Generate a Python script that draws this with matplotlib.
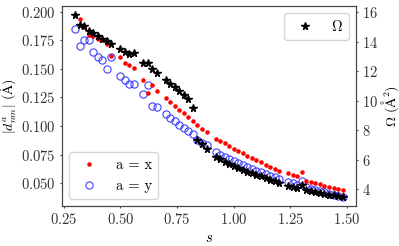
import numpy as np
import matplotlib
matplotlib.use("Agg")
import matplotlib.pyplot as plt

plt.rcParams['font.family'] = 'serif'
plt.rcParams['font.serif'] = ['cmr10', 'DejaVu Serif']
plt.rcParams['mathtext.fontset'] = 'cm'
plt.rcParams['axes.formatter.use_mathtext'] = True
plt.rcParams['font.size'] = 10.5
plt.rcParams['xtick.major.size'] = 1.6
plt.rcParams['ytick.major.size'] = 1.6
plt.rcParams['xtick.major.pad'] = 2.8
plt.rcParams['ytick.major.pad'] = 2.8
plt.rcParams['axes.edgecolor'] = '#444444'
plt.rcParams['xtick.color'] = '#444444'
plt.rcParams['ytick.color'] = '#444444'
plt.rcParams['xtick.labelcolor'] = '#333333'
plt.rcParams['ytick.labelcolor'] = '#333333'

# s values for each series
s_a = [0.30, 0.32, 0.34, 0.36, 0.38, 0.40, 0.42, 0.44, 0.46,
       0.50, 0.52, 0.54, 0.56,
       0.60, 0.62, 0.64, 0.66,
       0.70, 0.72, 0.74, 0.76, 0.78, 0.80, 0.82, 0.84, 0.86, 0.88,
       0.92, 0.94, 0.96, 0.98, 1.00, 1.02, 1.04, 1.06, 1.08, 1.10,
       1.12, 1.14, 1.16, 1.18, 1.20,
       1.24, 1.26, 1.28, 1.30, 1.32, 1.34, 1.36, 1.38, 1.40, 1.42,
       1.44, 1.46, 1.48]

d_x = [0.197, 0.1936, 0.187, 0.180, 0.1785, 0.1765, 0.175, 0.172, 0.1612,
       0.1603, 0.1551, 0.1537, 0.151,
       0.1406, 0.129, 0.1357, 0.131,
       0.1244, 0.1209, 0.1175, 0.1143, 0.1111, 0.1076, 0.1044, 0.1007, 0.0978, 0.0948,
       0.0891, 0.0871, 0.0851, 0.0827, 0.0804, 0.0784, 0.0764, 0.0741, 0.0720, 0.0703,
       0.0682, 0.0662, 0.0645, 0.0624, 0.0604,
       0.0587, 0.0575, 0.0561, 0.0601, 0.0523, 0.0511, 0.0503, 0.0491, 0.0480, 0.0471,
       0.0462, 0.0453, 0.0442]

d_y = [0.1847, 0.1702, 0.1754, 0.1754, 0.1644, 0.1603, 0.158, 0.1499, 0.160,
       0.1435, 0.1406, 0.1372, 0.1366,
       0.1279, 0.136, 0.1178, 0.1163,
       0.1105, 0.1073, 0.1041, 0.1012, 0.0981, 0.0957, 0.0928, 0.0875, 0.0855, 0.0835,
       0.0772, 0.0749, 0.0732, 0.0711, 0.0691, 0.0674, 0.0659, 0.0642, 0.0624, 0.0610,
       0.0595, 0.0581, 0.0566, 0.0552, 0.0535,
       0.0509, 0.0500, 0.0488, 0.0517, 0.0465, 0.0451, 0.0442, 0.0430, 0.0422, 0.0410,
       0.0401, 0.0393, 0.0381]

omega = [15.82, 15.17, 15.06, 14.77, 14.61, 14.39, 14.21, 14.03, 13.85,
         13.51, 13.33, 13.15, 13.26,
         12.59, 12.55, 12.14, 11.87,
         11.40, 11.16, 10.91, 10.66, 10.42, 10.13, 9.52, 7.32, 7.03, 6.72,
         6.20, 6.02, 5.87, 5.71, 5.57, 5.44, 5.30, 5.19, 5.08, 4.97,
         4.86, 4.74, 4.63, 4.52, 4.41,
         4.18, 4.12, 4.05, 4.25, 3.91, 3.85, 3.80, 3.74, 3.67, 3.62,
         3.58, 3.51, 3.47]

fig = plt.figure(figsize=(3.99, 2.46), dpi=100)
ax = fig.add_axes([0.1546, 0.1626, 0.8922 - 0.1546, 0.9756 - 0.1626])
ax2 = ax.twinx()

ax.plot(s_a, d_x, '.', color='red', ms=4.5, label='a = x', zorder=3)
ax.plot(s_a, d_y, 'o', mfc='none', mec=(0.25, 0.25, 1.0), mew=0.8, ms=5.2, label='a = y', zorder=2)
ax2.plot(s_a, omega, '*', color='black', ms=5.5, label=r'$\Omega$')

ax.set_xlabel(r'$s$', labelpad=3)
ax.set_ylabel(r'$|d^{a}_{nm}|\ (\mathrm{\AA})$', labelpad=1, fontsize=10)
ax2.set_ylabel(r'$\Omega\ (\mathrm{\AA}^2)$', labelpad=1, fontsize=10)
ax.set_xticks([0.25, 0.5, 0.75, 1.0, 1.25, 1.5])
ax.set_yticks([0.05, 0.075, 0.1, 0.125, 0.15, 0.175, 0.2])
ax2.set_yticks([4, 6, 8, 10, 12, 14, 16])

ax.legend(loc='lower left')
ax2.legend(loc='upper right')

fig.savefig('out.png', dpi=100)
